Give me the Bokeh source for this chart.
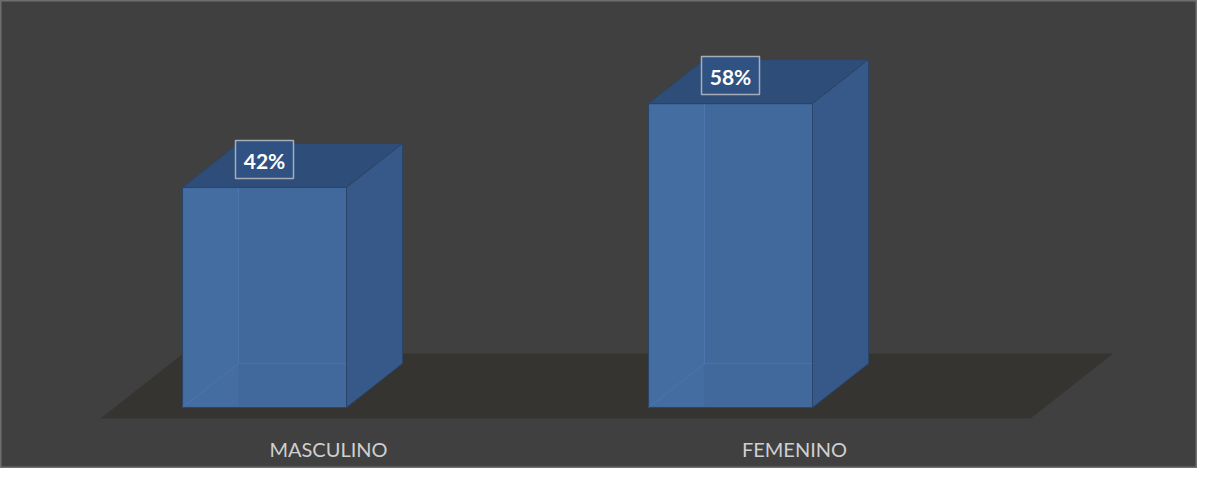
from bokeh.plotting import figure
from bokeh.models import Range1d
from bokeh.embed import file_html
from bokeh.resources import INLINE
from bokeh.core.properties import value

# ---- data ----
categories = ["MASCULINO", "FEMENINO"]
percentages = [42, 58]
value_labels = ["42%", "58%"]

# ---- layout / style constants (screen px) ----
W, H = 1197, 468
OFF = 0
ZERO_S = 407            # screen y of 0 %
PX = 5.24               # px per percentage point
BAR_X0 = 182            # front-left of first bar
BAR_STEP = 466
BAR_W = 164
DX, DY = 56, 44         # 3-D depth offset in px
FLOOR_BOTTOM_S, FLOOR_TOP_S = 418, 353
FLOOR_LEFT, FLOOR_RIGHT = 100, 1030

BG = "#404040"
FLOOR = "#363431"
FRONT = "#41699b"
FRONT_L = "#446da2"
TOP = "#2e4d79"
SIDE = "#36598a"
EDGE = "#2b4569"
INNER = "#5a86c0"
FONT = "Lato"


def u(px_offset):
    """convert a pixel distance to percentage units"""
    return px_offset / PX


p = figure(width=W, height=H, output_backend="svg", toolbar_location=None,
           x_range=Range1d(OFF, OFF + W),
           y_range=Range1d((ZERO_S - (OFF + H)) / PX, (ZERO_S - OFF) / PX),
           min_border=0)
p.axis.visible = False
p.grid.visible = False
p.background_fill_color = BG
p.border_fill_color = BG
p.outline_line_color = "#6e6e6e"
p.outline_line_width = 2

# floor
fb = (ZERO_S - FLOOR_BOTTOM_S) / PX
ft = (ZERO_S - FLOOR_TOP_S) / PX
fdx = (FLOOR_BOTTOM_S - FLOOR_TOP_S) * DX / DY
p.patch([FLOOR_LEFT, FLOOR_RIGHT, FLOOR_RIGHT + fdx, FLOOR_LEFT + fdx],
        [fb, fb, ft, ft], fill_color=FLOOR, line_color=None)

dyu = u(DY)
for i, v in enumerate(percentages):
    x0 = BAR_X0 + i * BAR_STEP
    x1 = x0 + BAR_W
    # front face
    p.patch([x0, x1, x1, x0], [0, 0, v, v], fill_color=FRONT, line_color=EDGE, line_width=1)
    # lighter left strip (seen through back-left)
    p.patch([x0 + 1, x0 + DX, x0 + DX, x0 + 1], [0.2, 0.2, v - 0.2, v - 0.2],
            fill_color=FRONT_L, line_color=None)
    # inner (back) edges visible through transparency
    p.line([x0 + DX, x0 + DX], [dyu, v], line_color=INNER, line_alpha=0.45, line_width=1)
    p.line([x0 + DX, x1], [dyu, dyu], line_color=INNER, line_alpha=0.35, line_width=1)
    p.line([x0, x0 + DX], [0, dyu], line_color=INNER, line_alpha=0.35, line_width=1)
    # top face
    p.patch([x0, x1, x1 + DX, x0 + DX], [v, v, v + dyu, v + dyu],
            fill_color=TOP, line_color=EDGE, line_width=1)
    # right face
    p.patch([x1, x1 + DX, x1 + DX, x1], [0, dyu, v + dyu, v],
            fill_color=SIDE, line_color=EDGE, line_width=1)

    # value label box
    cx = x0 + BAR_W / 2
    p.rect([cx], [v + u(28)], width=58, height=38, width_units="screen", height_units="screen",
           fill_color="#2f5282", line_color="#a6adb8", line_width=1.5)
    p.text([cx], [v + u(27)], text=[value_labels[i]], text_align="center",
           text_baseline="alphabetic", text_color="white", text_font=value(FONT),
           text_font_style="bold", text_font_size="21px")

    # category label
    p.text([cx + 64], [u(-41)], text=[categories[i]], text_align="center",
           text_baseline="alphabetic", text_color="#cfcfcf", text_font=value(FONT),
           text_font_size="20px")

open("out.html", "w").write(file_html(p, INLINE))
